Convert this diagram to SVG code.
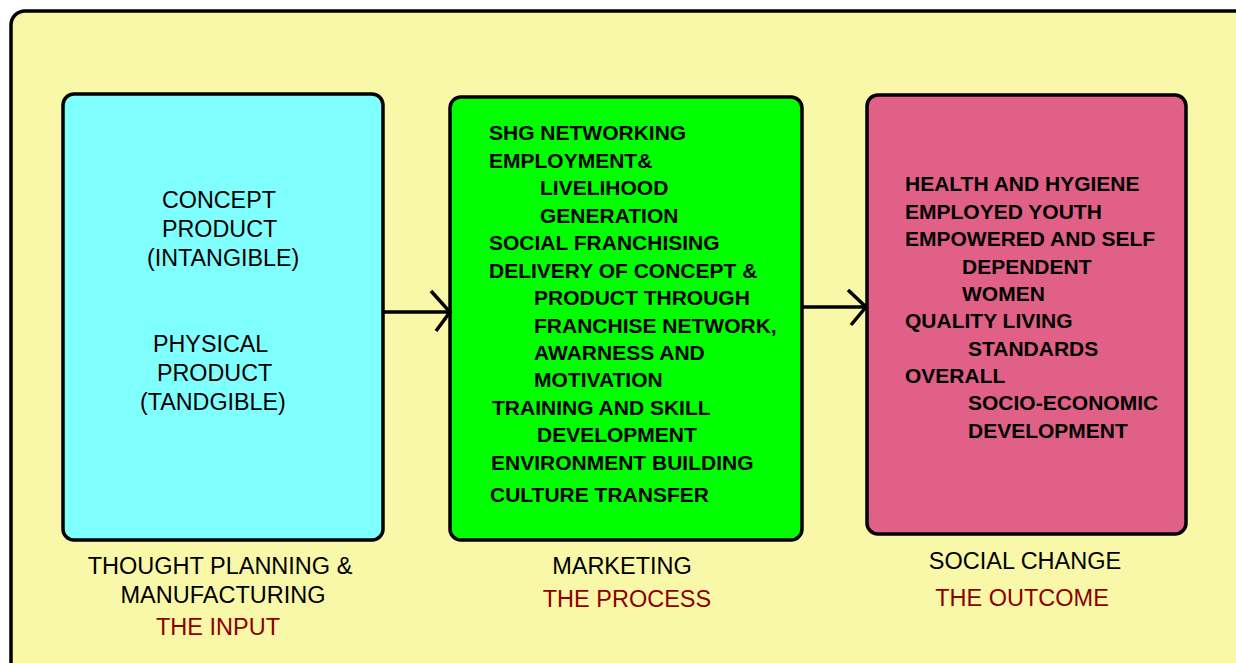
<svg xmlns="http://www.w3.org/2000/svg" width="1236" height="663" viewBox="0 0 1236 663">
<style>
.box{stroke:#000;stroke-width:3.5}
.t{font-family:"Liberation Sans",Arial,sans-serif;fill:#000}
.in{font-size:23.3px}
.g{font-size:21px;font-weight:bold}
.p{font-size:21px;font-weight:bold}
.lab{font-size:23.5px;text-anchor:middle}
.red{fill:#8b0000}
.conn{stroke:#000;stroke-width:3.5;fill:none}
</style>
<rect width="1236" height="663" fill="#ffffff"/>
<rect id="frame" x="11" y="11" width="1245" height="680" rx="14" fill="#f8f8a8" stroke="#000" stroke-width="3.5"/>
<g id="input">
<rect class="box" x="63" y="94" width="320" height="446" rx="11" fill="#80ffff"/>
<text class="t in" x="162" y="208">CONCEPT</text>
<text class="t in" x="162" y="237">PRODUCT</text>
<text class="t in" x="147" y="266">(INTANGIBLE)</text>
<text class="t in" x="153" y="352">PHYSICAL</text>
<text class="t in" x="157" y="381">PRODUCT</text>
<text class="t in" x="140" y="410">(TANDGIBLE)</text>
<text class="t lab" x="220" y="574">THOUGHT PLANNING &amp;</text>
<text class="t lab" x="223" y="603">MANUFACTURING</text>
<text class="t lab red" x="218" y="635">THE INPUT</text>
</g>
<g id="process">
<rect class="box" x="450" y="97" width="352" height="443" rx="11" fill="#00ff00"/>
<text class="t g" x="489" y="140">SHG NETWORKING</text>
<text class="t g" x="489" y="168">EMPLOYMENT&amp;</text>
<text class="t g" x="540" y="195">LIVELIHOOD</text>
<text class="t g" x="540" y="223">GENERATION</text>
<text class="t g" x="489" y="250">SOCIAL FRANCHISING</text>
<text class="t g" x="489" y="278">DELIVERY OF CONCEPT &amp;</text>
<text class="t g" x="534" y="305">PRODUCT THROUGH</text>
<text class="t g" x="534" y="333">FRANCHISE NETWORK,</text>
<text class="t g" x="534" y="360">AWARNESS AND</text>
<text class="t g" x="534" y="387">MOTIVATION</text>
<text class="t g" x="492" y="415">TRAINING AND SKILL</text>
<text class="t g" x="537" y="442">DEVELOPMENT</text>
<text class="t g" x="491" y="470">ENVIRONMENT BUILDING</text>
<text class="t g" x="490" y="502">CULTURE TRANSFER</text>
<text class="t lab" x="622" y="574">MARKETING</text>
<text class="t lab red" x="627" y="607">THE PROCESS</text>
</g>
<g id="outcome">
<rect class="box" x="867" y="95" width="319" height="439" rx="11" fill="#e06088"/>
<text class="t p" x="905" y="191">HEALTH AND HYGIENE</text>
<text class="t p" x="905" y="219">EMPLOYED YOUTH</text>
<text class="t p" x="905" y="246">EMPOWERED AND SELF</text>
<text class="t p" x="962" y="274">DEPENDENT</text>
<text class="t p" x="962" y="301">WOMEN</text>
<text class="t p" x="905" y="328">QUALITY LIVING</text>
<text class="t p" x="968" y="356">STANDARDS</text>
<text class="t p" x="905" y="383">OVERALL</text>
<text class="t p" x="968" y="410">SOCIO-ECONOMIC</text>
<text class="t p" x="968" y="438">DEVELOPMENT</text>
<text class="t lab" x="1025" y="569">SOCIAL CHANGE</text>
<text class="t lab red" x="1022" y="606">THE OUTCOME</text>
</g>
<g id="connectors">
<path class="conn" d="M383 312 H449 M431 291 L450 312 L436 331"/>
<path class="conn" d="M802 307 H866 M848 290 L866 307 L851 325"/>
</g>
</svg>
